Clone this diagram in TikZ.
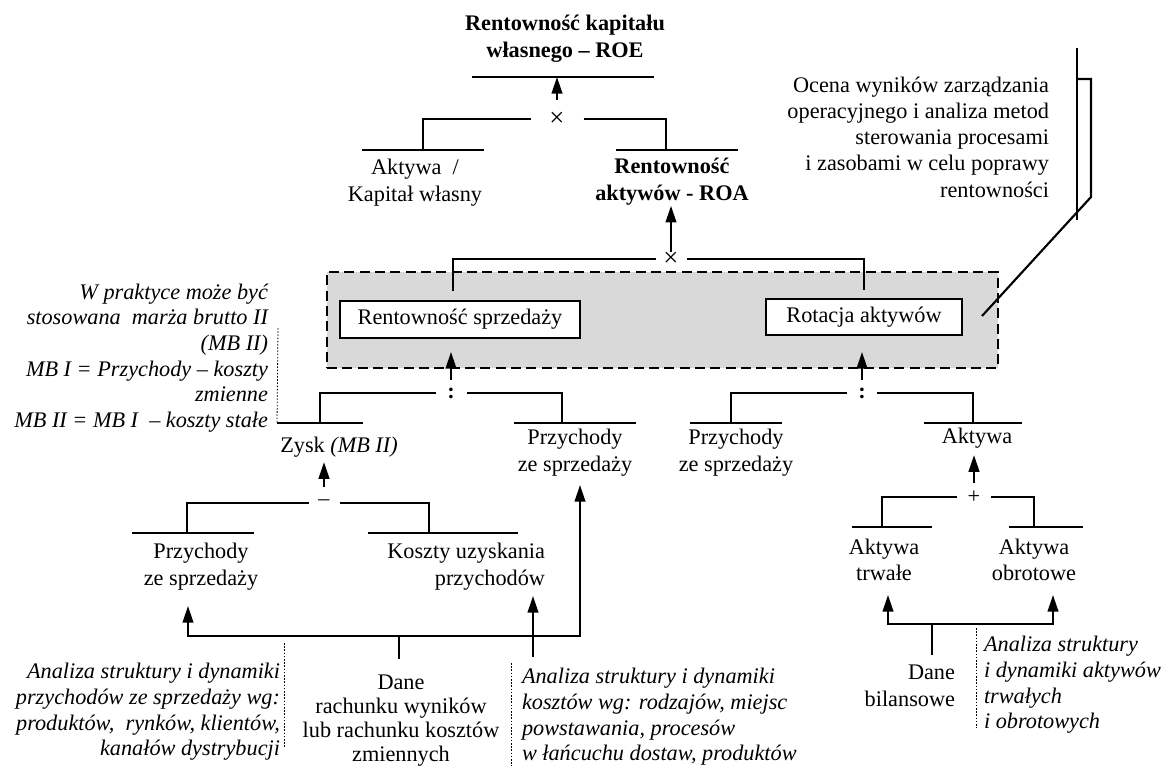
\documentclass[tikz,border=0pt]{standalone}
\usepackage{fontspec}
\setmainfont{Liberation Serif}
\usetikzlibrary{arrows.meta}
\begin{document}
\begin{tikzpicture}[x=0.75pt,y=-0.75pt,
  every node/.style={inner sep=0pt, outer sep=0pt},
  ln/.style={line width=1.6pt},
  bar/.style={line width=1.6pt},
  arr/.style={line width=1.6pt, -{Triangle[length=12.5pt,width=8pt]}},
  lbl/.style={font=\fontsize{16.7}{20}\selectfont, align=center},
  blbl/.style={font=\fontsize{16.7}{20.5}\selectfont\bfseries, align=center},
  note/.style={font=\fontsize{16.7}{19.3}\selectfont\itshape},
  op/.style={font=\fontsize{16.7}{20}\selectfont},
  mulop/.style={font=\fontsize{20}{20}\selectfont},
  dots/.style={line width=0.6pt, dash pattern=on 1.2pt off 1.2pt},
  kbox/.style={draw, line width=1.6pt, fill=white, font=\fontsize{16.7}{20}\selectfont},
  panel/.style={draw, line width=1.6pt, dash pattern=on 7.5pt off 4pt, fill=gray!30},
]
\useasboundingbox (0,0) rectangle (1163,766);

% ---------- return on equity ----------
\node[blbl] (roe) at (565,39) {Rentowność kapitału\\własnego – ROE};
\coordinate (roeL) at (472,77); \coordinate (roeR) at (654,77);
\draw[bar] (roeL) -- (roeR);
\node[mulop, minimum width=39.75pt, minimum height=28.5pt] (opROE) at (557,119) {×};
\draw[arr] (opROE.north) -- (opROE.north |- roeL);

\coordinate (akL) at (362,150); \coordinate (akR) at (484,150); \coordinate (akJ) at (423,150);
\draw[bar] (akL) -- (akR);
\node[lbl] (ak) at (415,183) {Aktywa \ /\\Kapitał własny};
\coordinate (roaL) at (616,150); \coordinate (roaR) at (738,150); \coordinate (roaJ) at (666,150);
\draw[bar] (roaL) -- (roaR);
\node[blbl] (roa) at (672,182) {Rentowność\\aktywów - ROA};
\draw[ln] (opROE.west) -| (akJ);
\draw[ln] (opROE.east) -| (roaJ);

% ---------- return on assets ----------
\node[panel, minimum width=503.25pt, minimum height=72pt] (panel) at (662.5,320) {};
\node[kbox, minimum width=180pt, minimum height=27.75pt] (rs) at (460,319.5) {Rentowność sprzedaży};
\node[kbox, minimum width=147pt, minimum height=27pt] (ra) at (864,317) {Rotacja aktywów};
\node[mulop, minimum width=23.25pt, minimum height=10.5pt] (opROA) at (671,259) {×};
\draw[arr] (opROA.north) -- (opROA.north |- roa.south);
\coordinate (rsJ) at (453,291); \coordinate (raJ) at (864,290);
\draw[ln] (opROA.west) -| (rsJ);
\draw[ln] (opROA.east) -| (raJ);

% ---------- return on sales ----------
\node[op, minimum width=23.25pt, minimum height=19.5pt] (opRS) at (451,393) {\raisebox{-3pt}{\bfseries :}};
\draw[arr, shorten >=10.5pt] (opRS.north) -- (opRS.north |- rs.south);
\coordinate (zL) at (277,423); \coordinate (zR) at (363,423); \coordinate (zJ) at (320,423);
\draw[bar] (zL) -- (zR);
\node[lbl] (zysk) at (339,447) {Zysk \textit{(MB II)}};
\coordinate (pRL) at (514,423); \coordinate (pRR) at (636,423); \coordinate (pRJ) at (562,423);
\draw[bar] (pRL) -- (pRR);
\node[lbl] (przR) at (575,453) {Przychody\\ze sprzedaży};
\draw[ln] (opRS.west) -| (zJ);
\draw[ln] (opRS.east) -| (pRJ);

\coordinate (noteAtop) at (278,328);
\draw[dots] (noteAtop) -- (zL);
\node[note, align=right, anchor=east] (noteA) at (268,358) {W praktyce może być\\stosowana\ \ marża brutto II\\(MB II)\\MB I = Przychody – koszty\\zmienne\\MB II = MB I\ \ – koszty stałe};

% ---------- profit ----------
\node[op, minimum width=23.25pt, minimum height=24pt] (opZ) at (324,503) {–};
\draw[arr, shorten >=3.75pt] (opZ.north) -- (opZ.north |- zysk.south);
\coordinate (pLL) at (132,533); \coordinate (pLR) at (254,533); \coordinate (pLJ) at (187,533);
\draw[bar] (pLL) -- (pLR);
\node[lbl] (przL) at (201,567) {Przychody\\ze sprzedaży};
\coordinate (kL) at (368,533); \coordinate (kR) at (518,533); \coordinate (kJ) at (429,533);
\draw[bar] (kL) -- (kR);
\node[lbl, align=right, anchor=east] (koszty) at (545,567) {Koszty uzyskania\\przychodów};
\draw[ln] (opZ.west) -| (pLJ);
\draw[ln] (opZ.east) -| (kJ);

% ---------- income statement data ----------
\node[lbl, font=\fontsize{16.7}{18}\selectfont] (dane) at (401,721) {Dane\\rachunku wyników\\lub rachunku kosztów\\zmiennych};
\coordinate (daneTop) at (399,659); \coordinate (hubL) at (399,636);
\coordinate (tipPL) at (188,606); \coordinate (tipPR) at (580,485);
\draw[ln] (daneTop) -- (hubL);
\draw[arr] (hubL) -| (tipPL);
\draw[arr] (hubL) -| (tipPR);
\coordinate (kBot) at (533,657); \coordinate (tipK) at (533,596);
\draw[arr] (kBot) -- (tipK);

\coordinate (dB1) at (284,643); \coordinate (dB2) at (284,747);
\draw[dots] (dB1) -- (dB2);
\node[note, align=right, anchor=east] (noteB) at (280,712) {Analiza struktury i dynamiki\\przychodów ze sprzedaży wg:\\produktów,\ \ rynków, klientów,\\kanałów dystrybucji};
\coordinate (dC1) at (511,663); \coordinate (dC2) at (511,766);
\draw[dots] (dC1) -- (dC2);
\node[note, align=left, anchor=west] (noteC) at (522,717) {Analiza struktury i dynamiki\\kosztów wg: rodzajów, miejsc\\powstawania, procesów\\w łańcuchu dostaw, produktów};

% ---------- asset turnover ----------
\node[op, minimum width=22.5pt, minimum height=19.5pt] (opRA) at (862,393) {\raisebox{-3pt}{\bfseries :}};
\draw[arr, shorten >=12.75pt] (opRA.north) -- (opRA.north |- ra.south);
\coordinate (p2L) at (690,423); \coordinate (p2R) at (782,423); \coordinate (p2J) at (731,423);
\draw[bar] (p2L) -- (p2R);
\node[lbl] (przR2) at (736,453) {Przychody\\ze sprzedaży};
\coordinate (aL) at (924,423); \coordinate (aR) at (1022,423); \coordinate (aJ) at (973,423);
\draw[bar] (aL) -- (aR);
\node[lbl] (akt) at (977,438) {Aktywa};
\draw[ln] (opRA.west) -| (p2J);
\draw[ln] (opRA.east) -| (aJ);

\node[op, minimum width=25.5pt, minimum height=21pt] (opA) at (974,497) {+};
\draw[arr, shorten >=5.25pt] (opA.north) -- (opA.north |- akt.south);
\coordinate (tL) at (852,527); \coordinate (tR) at (932,527); \coordinate (tJ) at (882,527);
\draw[bar] (tL) -- (tR);
\node[lbl] (atr) at (884,560) {Aktywa\\trwałe};
\coordinate (oL) at (1009,527); \coordinate (oR) at (1083,527); \coordinate (oJ) at (1034,527);
\draw[bar] (oL) -- (oR);
\node[lbl] (aob) at (1034,560) {Aktywa\\obrotowe};
\draw[ln] (opA.west) -| (tJ);
\draw[ln] (opA.east) -| (oJ);

% ---------- balance sheet data ----------
\node[lbl, align=right, anchor=east] (bil) at (955,686) {Dane\\bilansowe};
\coordinate (bTop) at (932,655); \coordinate (bHub) at (932,624);
\coordinate (tipT) at (888,595); \coordinate (tipO) at (1053,595);
\draw[ln] (bTop) -- (bHub);
\draw[arr] (bHub) -| (tipT);
\draw[arr] (bHub) -| (tipO);
\coordinate (dD1) at (976,628); \coordinate (dD2) at (976,728);
\draw[dots] (dD1) -- (dD2);
\node[note, align=left, anchor=west] (noteD) at (984,685) {Analiza struktury\\i dynamiki aktywów\\trwałych\\i obrotowych};

% ---------- operational management note ----------
\node[lbl, align=right, anchor=east, font=\fontsize{16.7}{19.7}\selectfont] (ocena) at (1049,137) {Ocena wyników zarządzania\\operacyjnego i analiza metod\\sterowania procesami\\i zasobami w celu poprawy\\rentowności};
\coordinate (r1) at (1077,48); \coordinate (r2) at (1077,220);
\draw[ln] (r1) -- (r2);
\coordinate (r3) at (1077,79); \coordinate (r4) at (1091,79);
\coordinate (r5) at (1091,197); \coordinate (r6) at (982,316);
\draw[ln] (r3) -- (r4) -- (r5) -- (r6);
\end{tikzpicture}
\end{document}
